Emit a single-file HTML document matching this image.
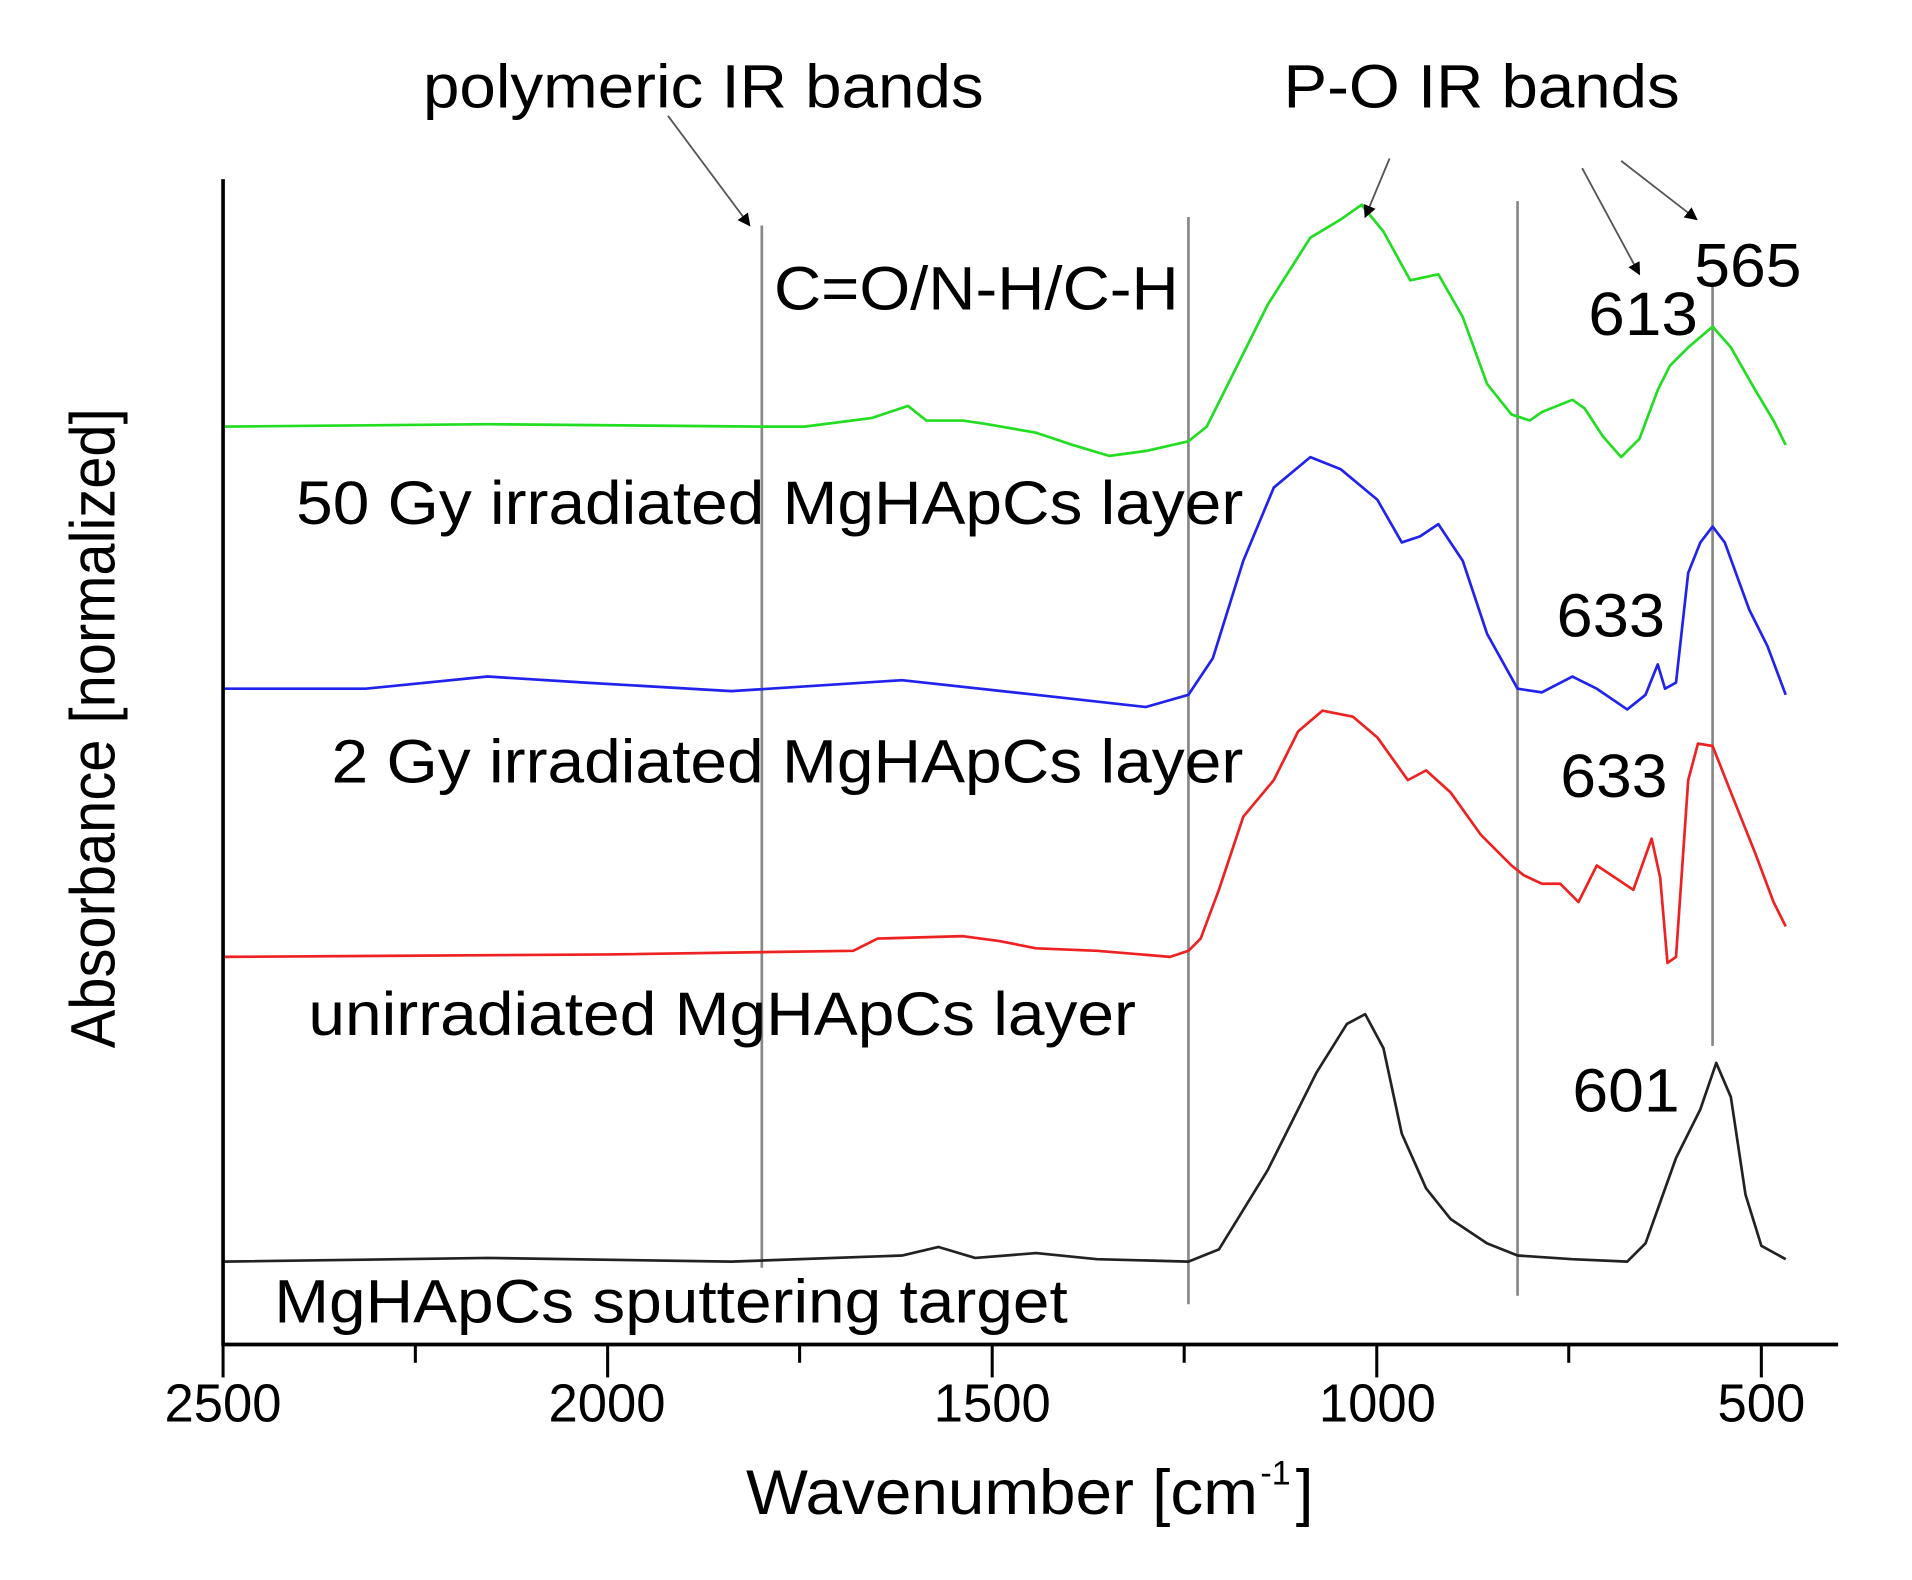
<!DOCTYPE html>
<html><head><meta charset="utf-8"><style>html,body{margin:0;padding:0;background:#fff}svg{display:block}</style></head>
<body>
<svg width="1912" height="1580" viewBox="0 0 1568.6 1296.2" preserveAspectRatio="none" xmlns="http://www.w3.org/2000/svg" font-family="Liberation Sans, Arial, sans-serif">
<rect width="1570" height="1300" fill="#fff"/>
<g stroke="#888" stroke-width="2.2">
<line x1="625" y1="185" x2="625" y2="1040"/>
<line x1="975" y1="178" x2="975" y2="1070"/>
<line x1="1245" y1="165" x2="1245" y2="1063"/>
<line x1="1405" y1="232" x2="1405" y2="858"/>
</g>
<g fill="none" stroke-width="2.2" stroke-linejoin="round">
<polyline stroke="#22dd22" points="183,350 400,348 625,350 660,350 715,343 745,333 760,345 790,345 810,348 850,355 880,365 910,374 940,370 975,362 990,350 1010,310 1040,250 1075,195 1100,180 1117,168 1135,190 1157,230 1180,225 1200,260 1220,315 1240,340 1255,345 1265,338 1290,328 1300,335 1315,358 1330,375 1345,360 1360,320 1370,300 1385,285 1405,268 1420,285 1440,320 1455,345 1465,365"/>
<polyline stroke="#2222ee" points="183,565 300,565 400,555 480,560 600,567 740,558 850,570 940,580 975,570 995,540 1020,460 1045,400 1075,375 1100,385 1130,410 1150,445 1165,440 1180,430 1200,460 1220,520 1245,565 1265,568 1290,555 1310,565 1335,582 1350,570 1360,545 1366,565 1375,560 1385,470 1395,445 1405,432 1415,445 1435,500 1450,530 1465,570"/>
<polyline stroke="#ee2222" points="183,785 500,783 700,780 720,770 790,768 820,772 850,778 900,780 960,785 975,780 985,770 1000,730 1020,670 1045,640 1065,600 1085,583 1110,588 1130,605 1155,640 1170,632 1190,650 1215,685 1240,710 1250,718 1265,725 1280,725 1295,740 1310,710 1325,720 1340,730 1355,688 1362,720 1368,790 1375,785 1385,640 1393,610 1405,612 1420,650 1440,700 1455,740 1465,760"/>
<polyline stroke="#222" points="183,1035 400,1032 600,1035 740,1030 770,1023 800,1032 850,1028 900,1033 975,1035 1000,1025 1040,960 1080,880 1105,840 1120,832 1135,860 1150,930 1170,975 1190,1000 1220,1020 1245,1030 1290,1033 1335,1035 1350,1020 1375,950 1395,910 1408,872 1420,900 1432,980 1445,1022 1465,1033"/>
</g>
<g stroke="#000" stroke-width="3" fill="none">
<line x1="183" y1="147" x2="183" y2="1104"/>
<line x1="182" y1="1103" x2="1508" y2="1103"/>
<g stroke-width="2.5">
<line x1="183" y1="1103" x2="183" y2="1130"/><line x1="498.5" y1="1103" x2="498.5" y2="1130"/><line x1="814" y1="1103" x2="814" y2="1130"/><line x1="1129.5" y1="1103" x2="1129.5" y2="1130"/><line x1="1445" y1="1103" x2="1445" y2="1130"/>
<line x1="340.75" y1="1103" x2="340.75" y2="1118"/><line x1="656" y1="1103" x2="656" y2="1118"/><line x1="971.5" y1="1103" x2="971.5" y2="1118"/><line x1="1287" y1="1103" x2="1287" y2="1118"/>
</g>
</g>
<g fill="#000" font-size="44">
<text x="135" y="1166" textLength="96" lengthAdjust="spacingAndGlyphs">2500</text>
<text x="450" y="1166" textLength="96" lengthAdjust="spacingAndGlyphs">2000</text>
<text x="766" y="1166" textLength="96" lengthAdjust="spacingAndGlyphs">1500</text>
<text x="1082" y="1166" textLength="96" lengthAdjust="spacingAndGlyphs">1000</text>
<text x="1409" y="1166" textLength="72" lengthAdjust="spacingAndGlyphs">500</text>
</g>
<text x="612" y="1242" font-size="52" textLength="420" lengthAdjust="spacingAndGlyphs">Wavenumber [cm</text>
<text x="1034" y="1218" font-size="28">-1</text>
<text x="1063" y="1242" font-size="52">]</text>
<text transform="translate(94,860) rotate(-90)" font-size="52" textLength="525" lengthAdjust="spacingAndGlyphs">Absorbance [normalized]</text>
<g font-size="50" fill="#000">
<text x="347" y="88" textLength="460" lengthAdjust="spacingAndGlyphs">polymeric IR bands</text>
<text x="1053" y="88" textLength="325" lengthAdjust="spacingAndGlyphs">P-O IR bands</text>
<text x="635" y="254" textLength="332" lengthAdjust="spacingAndGlyphs">C=O/N-H/C-H</text>
<text x="1303" y="275" textLength="90" lengthAdjust="spacingAndGlyphs">613</text>
<text x="1390" y="235" textLength="88" lengthAdjust="spacingAndGlyphs">565</text>
<text x="243" y="430" textLength="777" lengthAdjust="spacingAndGlyphs">50 Gy irradiated MgHApCs layer</text>
<text x="1277" y="522" textLength="89" lengthAdjust="spacingAndGlyphs">633</text>
<text x="272" y="642" textLength="748" lengthAdjust="spacingAndGlyphs">2 Gy irradiated MgHApCs layer</text>
<text x="1280" y="654" textLength="88" lengthAdjust="spacingAndGlyphs">633</text>
<text x="253" y="849" textLength="679" lengthAdjust="spacingAndGlyphs">unirradiated MgHApCs layer</text>
<text x="1290" y="912" textLength="88" lengthAdjust="spacingAndGlyphs">601</text>
<text x="225" y="1085" textLength="651" lengthAdjust="spacingAndGlyphs">MgHApCs sputtering target</text>
</g>
<defs><marker id="a" viewBox="0 0 10 10" refX="9" refY="5" markerWidth="7" markerHeight="7" orient="auto"><path d="M0,0 L10,5 L0,10 z" fill="#000"/></marker></defs>
<g stroke="#555" stroke-width="1.5" marker-end="url(#a)">
<line x1="548" y1="95" x2="615" y2="185"/>
<line x1="1140" y1="130" x2="1120" y2="178"/>
<line x1="1298" y1="138" x2="1345" y2="225"/>
<line x1="1330" y1="132" x2="1392" y2="180"/>
</g>
</svg>
</body></html>
